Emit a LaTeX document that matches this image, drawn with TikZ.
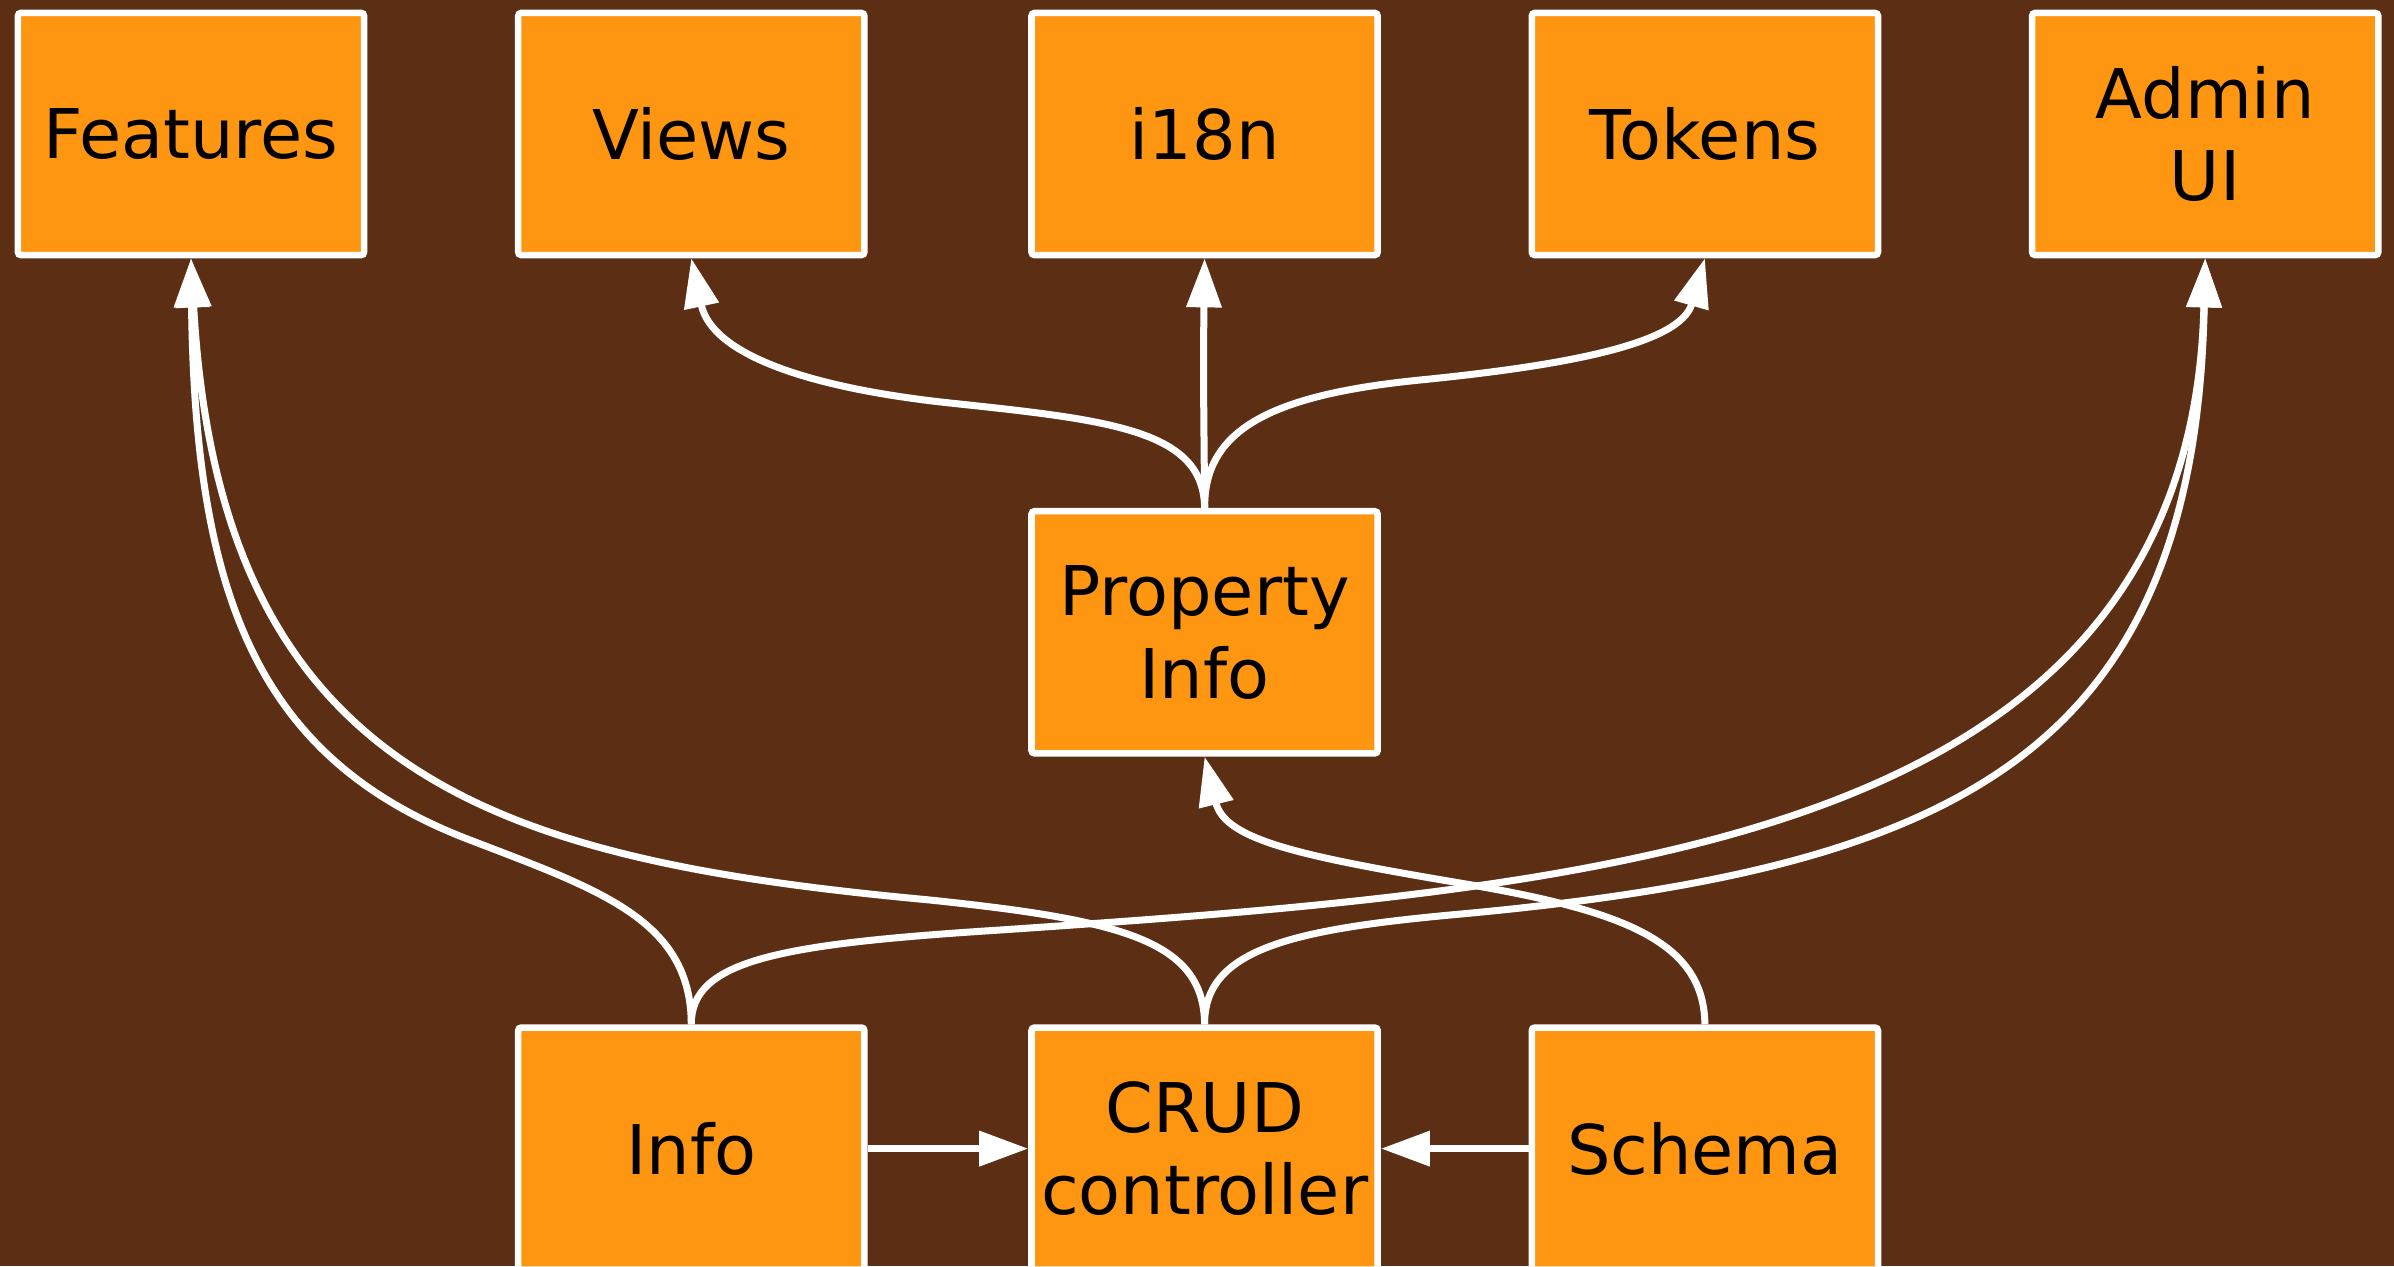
\documentclass[tikz,border=0pt]{standalone}
\usepackage{fontspec}
\setmainfont{DejaVu Sans}
\usetikzlibrary{arrows.meta}
\definecolor{bgbrown}{RGB}{92,47,21}
\definecolor{boxorange}{RGB}{255,150,18}
\begin{document}
\begin{tikzpicture}[x=0.01cm,y=-0.01cm,node distance=5cm,
	main node/.style = {rectangle,draw=white,fill=boxorange,line width=0.065cm,rounded corners=0.03cm,
		minimum width=3.46cm,minimum height=2.42cm,inner sep=0pt,align=center,
		font=\fontsize{19.5}{23.5}\selectfont},
	conn/.style = {draw=white,line width=0.07cm,-{Triangle[length=0.49cm,width=0.34cm]}}]
	\fill[bgbrown] (0,0) rectangle (2394,1266);
	\useasboundingbox (0,0) rectangle (2394,1266);
	\node[main node] at (191,134) (features) {Features};
	\node[main node] [right of = features] (views) {Views};
	\node[main node] [right of = views, node distance=5.13cm] (i18n) {i18n};
	\node[main node] [right of = i18n] (tokens) {Tokens};
	\node[main node] [right of = tokens] (admin) {Admin\\UI};
	\node[main node] [below of = i18n, node distance=4.98cm] (pi) {Property\\Info};
	\node[main node] [below of = pi, node distance=5.16cm] (crud) {CRUD\\controller};
	\node[main node] [left of = crud, node distance=5.13cm] (info) {Info};
	\node[main node] [right of = crud] (schema) {Schema};
	
	\draw[conn] (pi.north) .. controls (1204,430) and (1110,420) .. (950,403)
		.. controls (810,388) and (712,355) .. (views.south);
	\draw[conn] (pi.north) .. controls (1204,420) and (1203,380) .. (i18n.south);
	\draw[conn] (pi.north) .. controls (1204,430) and (1270,395) .. (1420,380)
		.. controls (1560,366) and (1680,345) .. (tokens.south);
	\draw[conn] (schema.north) .. controls (1704,940) and (1620,910) .. (1460,883)
		.. controls (1300,856) and (1225,840) .. (pi.south);
	\draw[conn] (info.north) .. controls (691,920) and (600,890) .. (470,840)
		.. controls (260,760) and (195,600) .. (features.south);
	\draw[conn] (crud.north) .. controls (1204,940) and (1120,920) .. (930,900)
		.. controls (500,860) and (220,780) .. (features.south);
	\draw[conn] (info.north) .. controls (691,960) and (780,944) .. (1000,930)
		.. controls (1620,888) and (2190,840) .. (admin.south);
	\draw[conn] (crud.north) .. controls (1204,950) and (1290,930) .. (1450,915)
		.. controls (1950,870) and (2195,760) .. (admin.south);
	\draw[conn] (info) -- (crud);
	\draw[conn] (schema) -- (crud);
\end{tikzpicture}
\end{document}
